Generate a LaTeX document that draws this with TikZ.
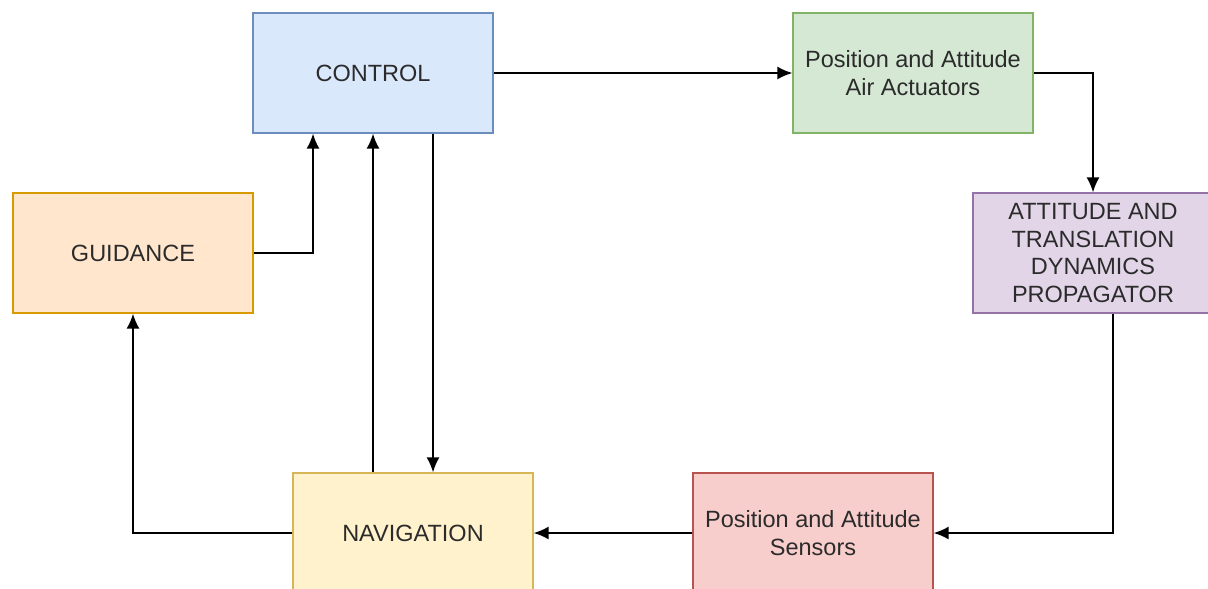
\documentclass[tikz,border=0pt]{standalone}
\usepackage{fontspec}
\setmainfont{Liberation Sans}
\usetikzlibrary{arrows.meta}

\definecolor{ctrlfill}{HTML}{DAE8FC}\definecolor{ctrldraw}{HTML}{6C8EBF}
\definecolor{actfill}{HTML}{D5E8D4}\definecolor{actdraw}{HTML}{82B366}
\definecolor{propfill}{HTML}{E1D5E7}\definecolor{propdraw}{HTML}{9673A6}
\definecolor{guidfill}{HTML}{FFE6CC}\definecolor{guiddraw}{HTML}{D79B00}
\definecolor{navfill}{HTML}{FFF2CC}\definecolor{navdraw}{HTML}{D6B656}
\definecolor{sensfill}{HTML}{F8CECC}\definecolor{sensdraw}{HTML}{B85450}
\definecolor{txt}{HTML}{2B2B2B}

\tikzset{
  block/.style={draw, line width=1.3pt, minimum width=240pt, minimum height=120pt,
    align=center, text=txt, font=\fontsize{23.5}{27.5}\selectfont, inner sep=0pt},
  link/.style={-{Latex[length=15pt,width=13pt]}, line width=1.6pt, black}
}

\begin{document}
\begin{tikzpicture}[x=1pt, y=-1pt]
                    \useasboundingbox (0,0) rectangle (1208,589);
                    \clip (0,0) rectangle (1208,589);
                    \node[block, fill=ctrlfill, draw=ctrldraw] (ctrl) at (373,73) {CONTROL};
                    \node[block, fill=actfill, draw=actdraw] (act) at (913,73) {Position and Attitude\\Air Actuators};
                    \node[block, fill=propfill, draw=propdraw] (prop) at (1093,253) {ATTITUDE AND\\TRANSLATION\\DYNAMICS\\PROPAGATOR};
                    \node[block, fill=guidfill, draw=guiddraw] (guid) at (133,253) {GUIDANCE};
                    \node[block, fill=navfill, draw=navdraw] (nav) at (413,533) {NAVIGATION};
                    \node[block, fill=sensfill, draw=sensdraw] (sens) at (813,533) {Position and Attitude\\Sensors};
                    \draw[link] (ctrl.east) -- (act.west);
                    \draw[link] (act.east) -| (prop.north);
                    \draw[link] ([xshift=20pt]prop.south) |- (sens.east);
                    \draw[link] (sens.west) -- (nav.east);
                    \draw[link] (nav.west) -| (guid.south);
                    \draw[link] (guid.east) -| ([xshift=-60pt]ctrl.south);
                    \draw[link] (nav.north -| ctrl.south) -- (ctrl.south);
                    \draw[link] ([xshift=60pt]ctrl.south) -- ([xshift=60pt]ctrl.south |- nav.north);
                \end{tikzpicture}
\end{document}
